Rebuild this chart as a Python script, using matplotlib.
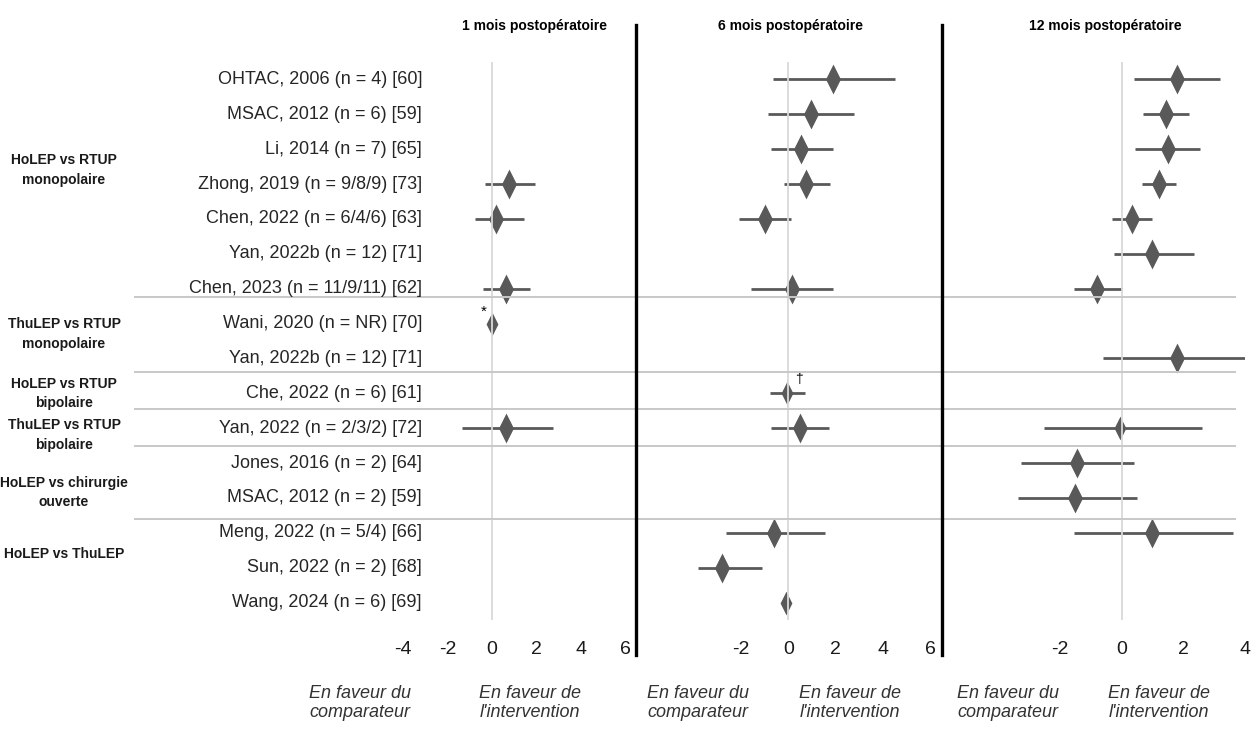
import numpy as np
import matplotlib.pyplot as plt
from matplotlib.path import Path
from matplotlib.lines import Line2D
from matplotlib import transforms

plt.rcParams['font.family'] = ['Liberation Sans', 'DejaVu Sans']

nan = np.nan

studies = [
    "OHTAC, 2006 (n = 4) [60]",
    "MSAC, 2012 (n = 6) [59]",
    "Li, 2014 (n = 7) [65]",
    "Zhong, 2019 (n = 9/8/9) [73]",
    "Chen, 2022 (n = 6/4/6) [63]",
    "Yan, 2022b (n = 12) [71]",
    "Chen, 2023 (n = 11/9/11) [62]",
    "Wani, 2020 (n = NR) [70]",
    "Yan, 2022b (n = 12) [71]",
    "Che, 2022 (n = 6) [61]",
    "Yan, 2022 (n = 2/3/2) [72]",
    "Jones, 2016 (n = 2) [64]",
    "MSAC, 2012 (n = 2) [59]",
    "Meng, 2022 (n = 5/4) [66]",
    "Sun, 2022 (n = 2) [68]",
    "Wang, 2024 (n = 6) [69]",
]

groups = [
    "HoLEP vs RTUP\nmonopolaire",
    "ThuLEP vs RTUP\nmonopolaire",
    "HoLEP vs RTUP\nbipolaire",
    "ThuLEP vs RTUP\nbipolaire",
    "HoLEP vs chirurgie\nouverte",
    "HoLEP vs ThuLEP",
]

titles = ["1 mois postopératoire", "6 mois postopératoire", "12 mois postopératoire"]

est_1m = [nan, nan, nan, 0.77, 0.2, nan, 0.65, 0.0, nan, nan, 0.65, nan, nan, nan, nan, nan]
lo_1m = [nan, nan, nan, -0.3, -0.75, nan, -0.4, nan, nan, nan, -1.35, nan, nan, nan, nan, nan]
hi_1m = [nan, nan, nan, 1.95, 1.45, nan, 1.7, nan, nan, nan, 2.75, nan, nan, nan, nan, nan]

est_6m = [1.9, 0.95, 0.55, 0.75, -1.0, nan, 0.15, nan, nan, -0.05, 0.5, nan, nan, -0.6, -2.8, -0.1]
lo_6m = [-0.65, -0.85, -0.75, -0.2, -2.1, nan, -1.6, nan, nan, -0.8, -0.75, nan, nan, -2.65, -3.85, nan]
hi_6m = [4.5, 2.8, 1.9, 1.75, 0.1, nan, 1.9, nan, nan, 0.7, 1.7, nan, nan, 1.55, -1.1, nan]

est_12m = [1.8, 1.45, 1.5, 1.2, 0.35, 1.0, -0.8, nan, 1.8, nan, -0.05, -1.45, -1.5, 1.0, nan, nan]
lo_12m = [0.4, 0.7, 0.45, 0.65, -0.3, -0.25, -1.55, nan, -0.6, nan, -2.5, -3.25, -3.35, -1.55, nan, nan]
hi_12m = [3.2, 2.2, 2.55, 1.75, 1.0, 2.35, 0.0, nan, 4.0, nan, 2.6, 0.4, 0.5, 3.6, nan, nan]

ticks_1m = [-4, -2, 0, 2, 4, 6]
ticks_6m = [-2, 0, 2, 4, 6]
ticks_12m = [-2, 0, 2, 4]

# layout (pixels / row positions) and style
W, H = 1251, 729
panels = [
    (est_1m, lo_1m, hi_1m, ticks_1m, (-4, 6), 403, 625),
    (est_6m, lo_6m, hi_6m, ticks_6m, (-4, 6), 694, 930),
    (est_12m, lo_12m, hi_12m, ticks_12m, (-4, 4), 998, 1245),
]
group_ypos = [2.6, 7.3, 9.0, 10.2, 11.85, 13.6]
sep_ypos = [6.25, 8.4, 9.45, 10.5, 12.6]
small = {(0, 7), (1, 9), (1, 15), (2, 10)}
dark = '#595959'
diamond = Path([(0, 1), (0.5, 0), (0, -1), (-0.5, 0), (0, 1)],
               [Path.MOVETO, Path.LINETO, Path.LINETO, Path.LINETO, Path.CLOSEPOLY])

fig = plt.figure(figsize=(W / 100, H / 100), dpi=100)
top_px, bot_px = 62, 620
n = len(studies)
axes = []
for p, (est, lo, hi, ticks, xlim, x0, x1) in enumerate(panels):
    ax = fig.add_axes([x0 / W, 1 - bot_px / H, (x1 - x0) / W, (bot_px - top_px) / H])
    ax.set_xlim(*xlim)
    ax.set_ylim(n - 0.5, -0.5)
    ax.axvline(0, color='#d9d9d9', lw=1.3, zorder=5)
    for i in range(n):
        if not np.isnan(lo[i]):
            ax.plot([lo[i], hi[i]], [i, i], color=dark, lw=2.0, solid_capstyle='butt', zorder=2)
        if not np.isnan(est[i]):
            ms = 17 if (p, i) in small else 21.5
            ax.plot(est[i], i, marker=diamond, ms=ms, color=dark, mec=dark, mew=0, zorder=3)
    ax.set_xticks(ticks)
    ax.set_xticklabels([str(t) for t in ticks], fontsize=14, color='#1a1a1a')
    ax.tick_params(axis='x', length=0, pad=15)
    ax.set_yticks([])
    for s in ax.spines.values():
        s.set_visible(False)
    ax.patch.set_alpha(0)
    axes.append(ax)

axes[0].text(-0.35, 6.65, "*", fontsize=11, ha='center', va='center')
axes[1].text(0.45, 8.6, "†", fontsize=10, ha='center', va='center')

# study labels and group labels
trans = transforms.blended_transform_factory(fig.transFigure, axes[0].transData)
for i, s in enumerate(studies):
    fig.text(422 / W, i, s, transform=trans, ha='right', va='center', fontsize=13, color='#262626')
for g, yc in zip(groups, group_ypos):
    fig.text(64 / W, yc, g, transform=trans, ha='center', va='center', fontsize=10,
             fontweight='bold', color='#1a1a1a', linespacing=1.5)

# separators between comparisons
for ysep in sep_ypos:
    fig.add_artist(Line2D([135 / W, 1235 / W], [ysep, ysep], transform=trans,
                          color='#c8c8c8', lw=1.4))

# thick dividers between time points
for xd in [636, 942]:
    fig.add_artist(Line2D([xd / W, xd / W], [1 - 25 / H, 1 - 655 / H], color='black', lw=2.4))

# titles
for t, xc in zip(titles, [535, 790, 1105]):
    fig.text(xc / W, 1 - 26 / H, t, ha='center', va='center', fontsize=10, fontweight='bold')

# footer
for xc_l, xc_r in [(360, 530), (698, 850), (1008, 1159)]:
    fig.text(xc_l / W, 1 - 703 / H, "En faveur du\ncomparateur", ha='center', va='center',
             fontsize=13, style='italic', color='#333333', linespacing=1.2)
    fig.text(xc_r / W, 1 - 703 / H, "En faveur de\nl'intervention", ha='center', va='center',
             fontsize=13, style='italic', color='#333333', linespacing=1.2)

fig.savefig('out.png', dpi=100)
